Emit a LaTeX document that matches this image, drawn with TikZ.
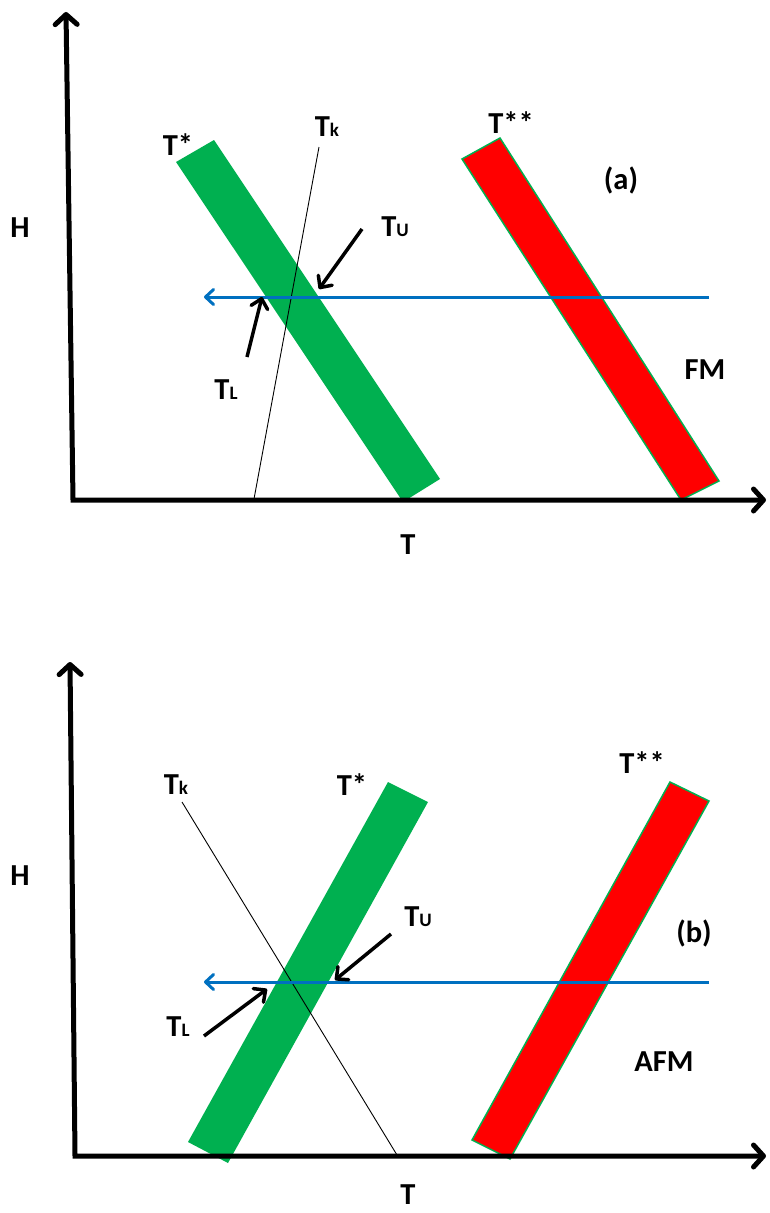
\documentclass[tikz,border=0pt]{standalone}
\usepackage{fontspec}
\setmainfont{Carlito}
\usetikzlibrary{arrows.meta}
\definecolor{bandgreen}{HTML}{00B050}
\definecolor{bandred}{HTML}{FF0000}
\definecolor{fieldblue}{HTML}{0070C0}
\newcommand{\lowidx}[1]{{\fontsize{19}{21}\selectfont #1}}

\begin{document}
\begin{tikzpicture}[
            x=1pt, y=-1pt,
            every node/.style={font=\fontsize{30.5}{33}\selectfont\bfseries},
            lbl/.style={inner sep=0pt},
            axis/.style={
                    line width=5pt,
                    {Straight Barb[length=10pt,width=22pt,round]}-{Straight Barb[length=10pt,width=22pt,round]}
                },
            greenband/.style={fill=bandgreen},
            redband/.style={fill=bandred, draw=bandgreen, line width=1.5pt},
            kline/.style={line width=0.9pt},
            field/.style={
                    -{Straight Barb[length=8pt,width=15pt,round]},
                    line width=3pt,
                    fieldblue
                },
            pointer/.style={
                    -{Straight Barb[length=9pt,width=17pt,round]},
                    line width=3.5pt
                }
        ]
        \useasboundingbox (0,0) rectangle (769,1213);

        % (a)
        \coordinate (oa) at (73,500);
        \coordinate (ya) at (66,12);
        \coordinate (xa) at (766,500);

        \fill[greenband] (176,162) -- (214,140) -- (440,479) -- (403,502) -- cycle;
        \filldraw[redband] (462,159) -- (500,138) -- (719,481) -- (681,500) -- cycle;

        \coordinate (ka1) at (319,147);
        \coordinate (ka2) at (254,499);
        \draw[kline] (ka1) -- (ka2);

        \draw[axis] (ya) -- (oa) -- (xa);

        \coordinate (fa1) at (709,297);
        \coordinate (fa2) at (204,297);
        \draw[field] (fa1) -- (fa2);

        \node[lbl] (ha) at (20,228) {H};
        \node[lbl] (tsa) at (178,145) {T*};
        \node[lbl] (tka) at (327,127) {T\lowidx{k}};
        \node[lbl] (tssa) at (511,123) {T**};
        \node[lbl] (capa) at (621,180) {(a)};
        \node[lbl] (tua) at (395,227) {T\lowidx{U}};
        \node[lbl] (tla) at (226,390) {T\lowidx{L}};
        \node[lbl] (fm) at (705,370) {FM};
        \node[lbl] (txa) at (408,545) {T};

        \coordinate (ua1) at (362,229);
        \coordinate (ua2) at (319,289);
        \coordinate (la1) at (247,357);
        \coordinate (la2) at (262,297);
        \draw[pointer] (ua1) -- (ua2);
        \draw[pointer] (la1) -- (la2);

        % (b)
        \coordinate (ob) at (75,1156);
        \coordinate (yb) at (70,662);
        \coordinate (xb) at (766,1156);

        \fill[greenband] (388,782) -- (428,802) -- (228,1163) -- (188,1142) -- cycle;
        \filldraw[redband] (670,782) -- (709,801) -- (510,1159) -- (472,1140) -- cycle;

        \coordinate (kb1) at (182,802);
        \coordinate (kb2) at (397,1155);
        \draw[kline] (kb1) -- (kb2);

        \draw[axis] (yb) -- (ob) -- (xb);

        \coordinate (fb1) at (709,982);
        \coordinate (fb2) at (204,982);
        \draw[field] (fb1) -- (fb2);

        \node[lbl] (hb) at (20,876) {H};
        \node[lbl] (tkb) at (176,785) {T\lowidx{k}};
        \node[lbl] (tsb) at (352,785) {T*};
        \node[lbl] (tssb) at (642,763) {T**};
        \node[lbl] (tub) at (418,917) {T\lowidx{U}};
        \node[lbl] (capb) at (694,933) {(b)};
        \node[lbl] (tlb) at (178,1027) {T\lowidx{L}};
        \node[lbl] (afm) at (664,1062) {AFM};
        \node[lbl] (txb) at (408,1195) {T};

        \coordinate (ub1) at (391,934);
        \coordinate (ub2) at (335,980);
        \coordinate (lb1) at (204,1036);
        \coordinate (lb2) at (267,989);
        \draw[pointer] (ub1) -- (ub2);
        \draw[pointer] (lb1) -- (lb2);

    \end{tikzpicture}
\end{document}
